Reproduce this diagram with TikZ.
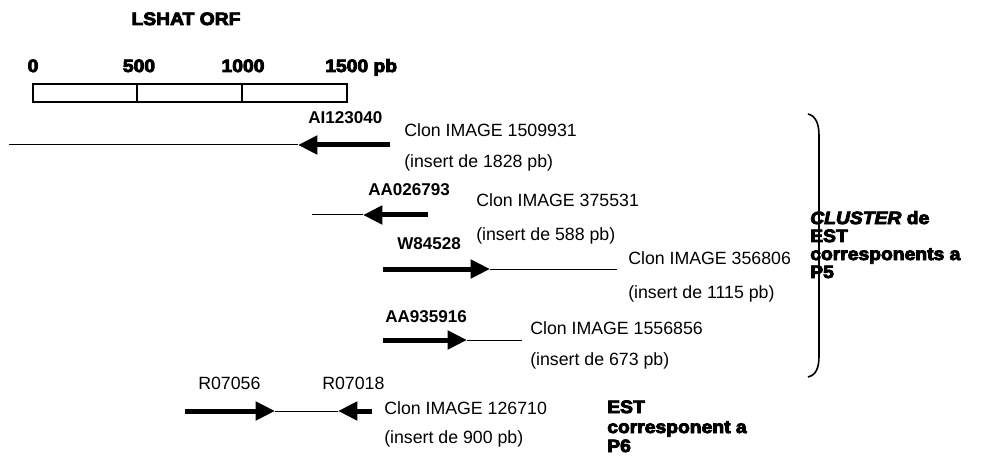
\documentclass[tikz,border=0pt]{standalone}
\usepackage{fontspec}
\setmainfont{Liberation Sans}
\newfontfamily\heavy{Liberation Sans Bold}[FakeBold=5,FakeStretch=1.08]
\newfontfamily\heavyit{Liberation Sans Bold Italic}[FakeBold=5,FakeStretch=1.08]
\usetikzlibrary{arrows.meta}
\tikzset{
  thinline/.style={line width=0.75pt},
  fatarrow/.style={line width=3.75pt,-{Triangle[length=14.5pt,width=13.5pt]}},
  clon/.style={anchor=base west,inner sep=0pt,font=\fontsize{13.3}{16}\selectfont},
  lbl/.style={anchor=base west,inner sep=0pt,font=\bfseries\fontsize{12.8}{15}\selectfont},
  rlbl/.style={anchor=base west,inner sep=0pt,font=\fontsize{13.3}{16}\selectfont},
  hv/.style={inner sep=0pt,font=\heavy\fontsize{13.4}{14}\selectfont},
  hvl/.style={hv,anchor=base west},
  boxline/.style={line width=1pt},
}
\begin{document}
\begin{tikzpicture}[x=0.75pt,y=-0.75pt]
\useasboundingbox (0,0) rectangle (989,456);
% title and scale
\node[hv,anchor=base] (title) at (186,25) {LSHAT ORF};
\node[hv,anchor=base] (n0) at (33,72) {0};
\node[hv,anchor=base] (n500) at (139,72) {500};
\node[hv,anchor=base] (n1000) at (243,72) {1000};
\node[hvl] (n1500) at (325,72) {1500 pb};
\draw[boxline] (33,84) rectangle (347,102);
\draw[boxline] (137,84) -- (137,102);
\draw[boxline] (242,84) -- (242,102);
% row 1
\coordinate (r1a) at (9,145);
\coordinate (r1t) at (298,145);
\coordinate (r1s) at (390,145);
\draw[thinline] (r1a) -- (r1t);
\draw[fatarrow] (r1s) -- (r1t);
\node[lbl] (l1) at (308,124) {AI123040};
\node[clon] (c1) at (404,137) {Clon IMAGE 1509931};
\node[clon] (i1) at (404,168) {(insert de 1828 pb)};
% row 2
\coordinate (r2a) at (312,215);
\coordinate (r2t) at (363,215);
\coordinate (r2s) at (428,215);
\draw[thinline] (r2a) -- (r2t);
\draw[fatarrow] (r2s) -- (r2t);
\node[lbl] (l2) at (368,196) {AA026793};
\node[clon] (c2) at (476,207) {Clon IMAGE 375531};
\node[clon] (i2) at (476,241) {(insert de 588 pb)};
% row 3
\coordinate (r3s) at (383,269);
\coordinate (r3t) at (490,269);
\coordinate (r3b) at (617,269);
\draw[thinline] (r3t) -- (r3b);
\draw[fatarrow] (r3s) -- (r3t);
\node[lbl] (l3) at (397,249) {W84528};
\node[clon] (c3) at (628,264) {Clon IMAGE 356806};
\node[clon] (i3) at (628,298) {(insert de 1115 pb)};
% row 4
\coordinate (r4s) at (383,340);
\coordinate (r4t) at (467,340);
\coordinate (r4b) at (522,340);
\draw[thinline] (r4t) -- (r4b);
\draw[fatarrow] (r4s) -- (r4t);
\node[lbl] (l4) at (385,322) {AA935916};
\node[clon] (c4) at (530,334) {Clon IMAGE 1556856};
\node[clon] (i4) at (530,365) {(insert de 673 pb)};
% row 5
\coordinate (r5s) at (185,411);
\coordinate (r5t) at (275,411);
\coordinate (r5u) at (338,411);
\coordinate (r5e) at (372,411);
\draw[thinline] (r5t) -- (r5u);
\draw[fatarrow] (r5s) -- (r5t);
\draw[fatarrow] (r5e) -- (r5u);
\node[rlbl] (l5a) at (198,389) {R07056};
\node[rlbl] (l5b) at (322,389) {R07018};
\node[clon] (c5) at (384,414) {Clon IMAGE 126710};
\node[clon] (i5) at (384,443) {(insert de 900 pb)};
% brace
\draw[line width=1.2pt] (808,114) .. controls (816,116) and (819,124) .. (819,136) -- (819,356) .. controls (819,368) and (816,375) .. (808,377);
\node[hvl] (cl1) at (810,224) {{\heavyit CLUSTER} de};
\node[hvl] (cl2) at (810,242) {EST};
\node[hvl] (cl3) at (810,260) {corresponents a};
\node[hvl] (cl4) at (810,278) {P5};
\node[hvl] (p61) at (607,413) {EST};
\node[hvl] (p62) at (607,433) {corresponent a};
\node[hvl] (p63) at (607,452) {P6};
\end{tikzpicture}
\end{document}
